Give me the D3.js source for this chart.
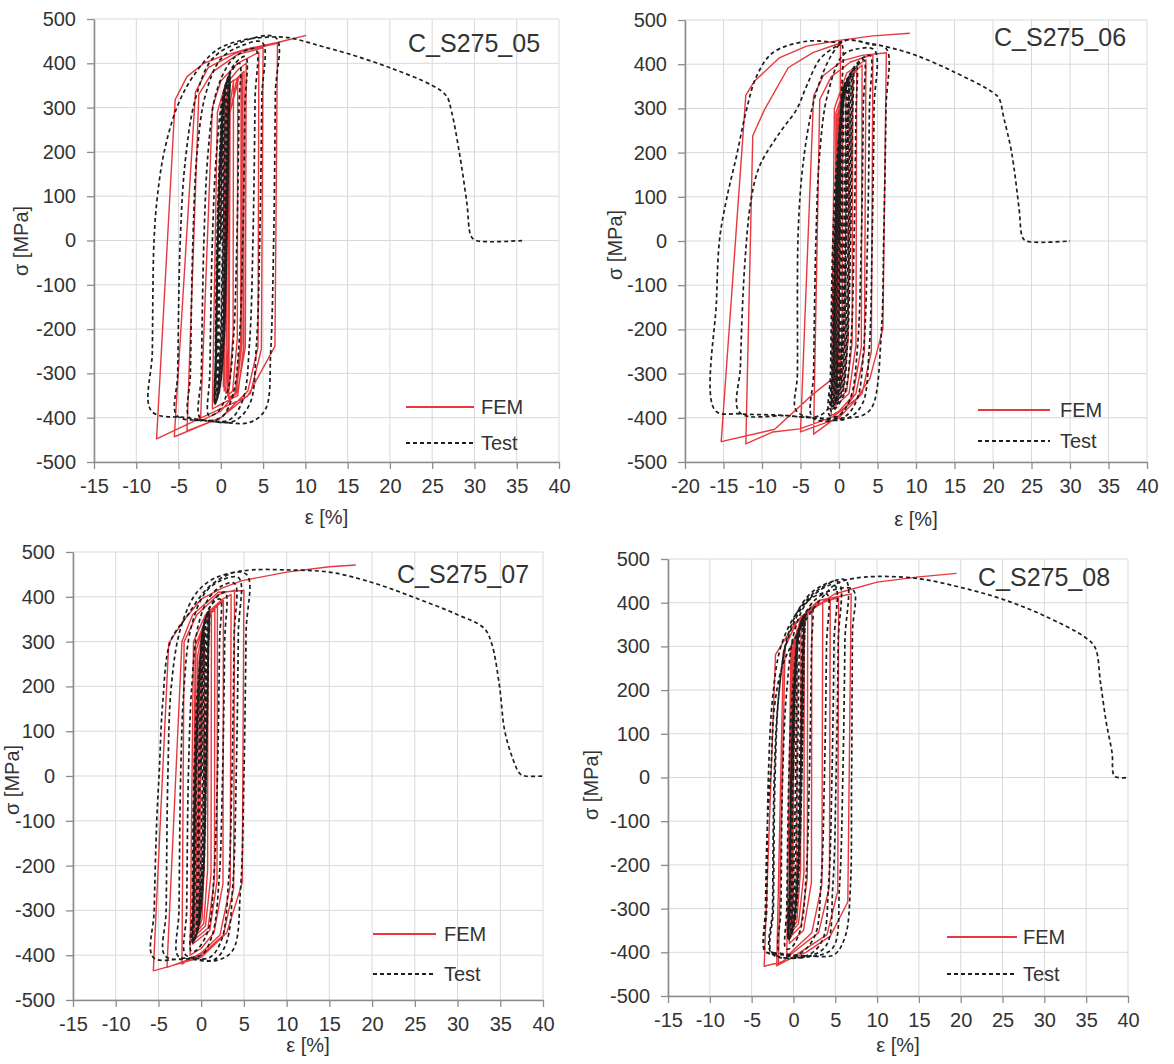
<!DOCTYPE html>
<html><head><meta charset="utf-8">
<script src="https://cdn.jsdelivr.net/npm/d3@7"></script>
<style>body{margin:0;background:#fff}svg{display:block}text{font-family:"Liberation Sans",Arial,sans-serif;fill:#333}</style>
</head><body><svg id="c" width="1174" height="1064"></svg>
<script>
// ---------- tick labels ----------
const xTicksA = [-15,-10,-5,0,5,10,15,20,25,30,35,40];
const xTicksB = [-20,-15,-10,-5,0,5,10,15,20,25,30,35,40];
const yTicks = [-500,-400,-300,-200,-100,0,100,200,300,400,500];
const seriesNames = ["FEM","Test"];
const titles = ["C_S275_05","C_S275_06","C_S275_07","C_S275_08"];

// ---------- C_S275_05 ----------
const fem05 = [[0,0],[0.2,330],[0.5,350],[0.45,-200],[0.3,-330],[0.4,250],[0.8,350],[1.0,355],
[0.95,-200],[0.6,-330],[0.4,-340],[0.55,260],[1.1,355],[1.5,362],[1.45,-210],[1.0,-335],[0.6,-345],
[0.8,270],[1.5,360],[2.0,368],[1.95,-220],[1.4,-340],[0.8,-350],[1.0,280],[1.9,365],[2.4,375],
[2.35,-230],[1.7,-345],[0.9,-355],[1.05,285],[2.0,368],[2.55,378],[2.5,-235],[1.8,-347],[0.95,-357],
[1.1,290],[2.2,372],[2.75,382],[2.7,-240],[2.0,-350],[0.5,-365],[-1.0,-380],
[-0.4,290],[0.5,350],[2,385],[3.0,400],[2.9,-240],[2,-340],[0,-385],[-2.4,-408],
[-1.0,300],[0,360],[2,400],[4.5,425],[4.4,-240],[3.2,-340],[0,-400],[-4.0,-430],
[-2.6,330],[-1,380],[2,420],[5.0,435],[4.8,-245],[3.5,-345],[0,-400],[-5.5,-443],
[-3.0,335],[-1.5,390],[2,425],[6.7,445],[6.4,-239],[3.15,-352],[-2.4,-401],[-7.6,-448],
[-5.4,318],[-4,370],[-2,400],[0,415],[3,432],[6.7,447],[10.1,463]];
const test05 = [[0,0],[0.15,150],[0.3,280],[0.4,330],[0.35,250],[0.2,0],[0.0,-200],[-0.2,-300],[-0.3,-330],
[-0.25,-250],[-0.1,0],[0.1,200],[0.35,320],[0.55,345],[0.5,250],[0.3,0],[0.05,-220],[-0.25,-320],[-0.45,-350],
[-0.4,-270],[-0.2,0],[0.05,200],[0.4,330],[0.75,360],[0.7,260],[0.45,0],[0.15,-230],[-0.3,-335],[-0.6,-362],
[-0.55,-280],[-0.35,0],[-0.05,200],[0.4,330],[1.0,370],[0.95,270],[0.7,0],[0.35,-230],[-0.2,-340],[-0.7,-368],
[-0.62,-280],[-0.42,0],[-0.1,200],[0.35,330],[0.85,366],[0.8,265],[0.55,0],[0.2,-230],[-0.3,-338],[-0.66,-366],
[-0.6,-280],[-0.38,0],[-0.05,200],[0.45,335],[0.98,372],[0.92,268],[0.66,0],[0.3,-232],[-0.25,-342],[-0.72,-370],
[-0.66,-282],[-0.46,0],[-0.12,200],[0.3,332],[0.8,362],[0.76,262],[0.52,0],[0.18,-228],[-0.32,-336],[-0.6,-364],
[-0.55,-278],[-0.33,0],[0,200],[0.5,338],[1.02,374],[0.97,270],[0.72,0],[0.36,-234],[-0.22,-344],[-0.7,-368],
[-0.6,-250],[-0.35,0],[0,200],[0.5,330],[1.2,380],[2.2,400],[2.15,300],[1.9,0],[1.5,-220],[0.8,-340],[-0.3,-385],[-1.4,-395],
[-1.3,-300],[-1.0,0],[-0.5,200],[0.3,330],[1.5,395],[2.9,415],[2.85,300],[2.6,0],[2.2,-220],[1.4,-350],[0,-400],[-2.4,-402],
[-2.3,-300],[-2.0,0],[-1.5,200],[-0.6,330],[1,400],[2.5,425],[4.1,432],[4.05,320],[3.8,0],[3.4,-230],[2.6,-360],[1,-405],[-1.5,-406],[-3.7,-400],
[-3.6,-300],[-3.3,0],[-2.8,200],[-1.8,330],[0,410],[2.5,440],[4.9,447],[4.85,320],[4.6,0],[4.2,-240],[3.4,-370],[1.5,-408],[-2,-406],[-5.2,-395],
[-5.1,-300],[-4.8,0],[-4.2,180],[-3,320],[-1,410],[2,445],[6.5,458],[6.45,330],[6.25,0],[5.9,-250],[5.3,-380],[3.5,-410],[0,-410],[-4,-400],[-8.2,-385],
[-8.1,-250],[-7.9,0],[-7.5,100],[-6.7,200],[-5.2,300],[-3.3,370],[-0.5,430],[2.5,452],[5.5,459],[8,458],
[10,449],[12,438],[15,422],[20,390],[25,350],[26.7,326],[27.3,290],[28.2,200],[29.1,85],[29.6,10],[30.2,0],[35.7,0]];

// ---------- C_S275_06 ----------
const fem06 = [[0,0],[0.2,320],[0.5,345],[0.4,-200],[0.1,-320],[-0.2,-335],[0,250],[0.5,345],[0.9,355],
[0.8,-210],[0.3,-330],[-0.3,-345],[-0.1,260],[0.6,350],[1.3,365],[1.2,-220],[0.6,-335],[-0.4,-355],
[-0.2,270],[0.8,355],[1.8,375],[1.7,-230],[1.0,-340],[-0.5,-365],[-0.3,280],[1.0,362],[2.3,385],
[2.2,-235],[1.3,-345],[-0.6,-375],[-0.4,290],[1.2,370],[3.0,398],[2.9,-240],[1.8,-350],[0,-385],[-1.0,-395],
[-0.6,300],[1,380],[3.5,410],[3.3,-250],[2.2,-345],[0,-395],[-3.3,-437],
[-2.5,320],[-1,372],[1.5,405],[4.4,422],[4.2,-250],[3,-345],[0,-400],[-5.0,-432],
[-3.3,328],[-2,375],[0.5,408],[3,420],[6.15,426],
[5.7,-199],[4.0,-312],[2.25,-357],[-0.8,-398],[-5.1,-425],[-8.6,-432],[-12.1,-459],
[-11.2,238],[-9.65,298],[-6.6,392],[-3.4,426],[0.2,448],
[0,-300],[-3.4,-347],[-8.35,-426],[-15.3,-454],
[-12.1,330],[-10.95,362],[-7.7,415],[-4.2,441],[0,454],[4.4,464],[9.2,470]];
const test06 = [[0,0],[0.15,150],[0.3,280],[0.4,330],[0.35,250],[0.2,0],[0,-200],[-0.2,-300],[-0.3,-330],
[-0.25,-250],[-0.1,0],[0.1,200],[0.35,320],[0.6,350],[0.55,250],[0.35,0],[0.1,-220],[-0.2,-320],[-0.45,-350],
[-0.4,-270],[-0.2,0],[0.05,200],[0.45,330],[0.9,362],[0.85,260],[0.6,0],[0.3,-230],[-0.2,-335],[-0.6,-362],
[-0.55,-280],[-0.35,0],[0,200],[0.6,335],[1.3,372],[1.25,270],[1.0,0],[0.6,-230],[0,-340],[-0.8,-372],
[-0.72,-280],[-0.5,0],[-0.1,200],[0.5,335],[1.1,368],[1.05,268],[0.8,0],[0.4,-232],[-0.15,-340],[-0.7,-368],
[-0.62,-280],[-0.4,0],[0,200],[0.7,340],[1.5,378],[1.45,275],[1.2,0],[0.8,-232],[0.1,-342],[-0.85,-375],
[-0.75,-282],[-0.52,0],[-0.1,200],[0.55,336],[1.2,370],[1.15,270],[0.9,0],[0.5,-230],[-0.1,-340],[-0.78,-372],
[-0.7,-280],[-0.45,0],[0,200],[0.75,342],[1.65,382],[1.6,278],[1.35,0],[0.95,-232],[0.25,-345],[-0.8,-372],
[-0.7,-280],[-0.45,0],[0,200],[0.8,340],[1.8,385],[1.75,280],[1.5,0],[1.1,-230],[0.4,-345],[-0.9,-380],
[-0.8,-280],[-0.5,0],[0,200],[1,350],[2.25,395],[2.2,290],[1.95,0],[1.5,-240],[0.6,-350],[-1.0,-385],
[-0.9,-290],[-0.6,0],[0,200],[1.2,360],[3.2,410],[3.15,300],[2.9,0],[2.4,-240],[1.5,-355],[0,-395],[-1.2,-395],
[-1.1,-300],[-0.8,0],[-0.2,200],[1,360],[2.5,405],[4.0,420],[3.95,300],[3.7,0],[3.2,-245],[2.3,-360],[0.5,-400],[-3.4,-400],
[-3.3,-300],[-3.0,0],[-2.5,200],[-1.5,330],[0.5,420],[2.5,435],[4.6,432],[4.55,300],[4.3,0],[3.9,-250],[3.0,-370],[1,-402],[-2,-403],[-5.5,-385],
[-5.4,-300],[-5.3,20],[-4.7,170],[-3.5,300],[-2.5,360],[-1,420],[0.3,445],
[0.25,300],[0.1,0],[-0.2,-250],[-0.8,-360],[-2.5,-395],[-7,-395],[-12.9,-388],
[-12.8,-282],[-12.25,-56],[-11.4,95],[-10.3,170],[-7.7,245],[-5.5,298],[-4.2,351],[-2.5,411],[-0.35,441],[1.2,455],[4,445],[6.15,435],
[6.1,300],[5.8,0],[5.5,-206],[4.4,-372],[3.1,-394],[0,-401],[-3.4,-400],[-7.7,-394],[-12.9,-391],[-16.1,-383],
[-15.9,-131],[-15.5,5],[-14.6,95],[-13.3,193],[-12.0,298],[-10.7,373],[-8.6,426],[-4.2,452],[0,450],[1.2,455],[4,447],[6.5,438],
[10,420],[15,382],[20,336],[20.8,322],[21.4,279],[22.4,202],[23.4,71],[23.8,10],[24.3,0],[30,0]];

// ---------- C_S275_07 ----------
const fem07 = [[0,0],[0.15,310],[0.4,340],[0.35,-200],[0.1,-320],[-0.2,-335],[0,250],[0.4,340],[0.8,350],
[0.75,-210],[0.3,-330],[-0.4,-345],[-0.2,260],[0.4,345],[1.2,360],[1.15,-220],[0.5,-335],[-0.6,-355],
[-0.4,270],[0.5,350],[1.6,372],[1.55,-230],[0.8,-340],[-0.8,-365],[-0.6,280],[0.6,355],[1.9,380],
[1.85,-235],[1.0,-345],[-1.0,-375],[-0.7,290],[0.8,362],[2.6,392],[2.55,-240],[1.5,-350],[0,-385],[-1.3,-400],
[-0.9,300],[0.5,360],[2.5,395],[3.5,405],[3.4,-245],[2.2,-355],[0,-395],[-2.25,-420],
[-2.0,300],[-0.5,360],[2,405],[3.9,415],[3.8,-250],[2.6,-355],[0,-400],[-4.0,-427],
[-2.25,300],[-1,360],[2,410],[5.0,414],[4.8,-238],[3.0,-350],[0,-405],[-5.6,-435],
[-3.8,296],[-2.25,342],[0,395],[2.5,420],[4.8,436],[10,455],[15,467],[18.1,471]];
const test07 = [[0,0],[0.1,150],[0.25,280],[0.35,320],[0.3,240],[0.15,0],[-0.05,-200],[-0.25,-300],[-0.35,-330],
[-0.3,-250],[-0.15,0],[0.05,200],[0.3,320],[0.5,345],[0.45,250],[0.3,0],[0.05,-220],[-0.3,-320],[-0.55,-350],
[-0.5,-270],[-0.3,0],[-0.05,200],[0.3,330],[0.7,358],[0.65,260],[0.45,0],[0.15,-230],[-0.35,-335],[-0.8,-362],
[-0.75,-280],[-0.55,0],[-0.2,200],[0.3,335],[0.9,368],[0.85,270],[0.6,0],[0.25,-230],[-0.35,-340],[-1.0,-372],
[-0.92,-282],[-0.7,0],[-0.3,200],[0.25,333],[0.75,362],[0.7,262],[0.48,0],[0.15,-230],[-0.4,-338],[-0.9,-368],
[-0.85,-280],[-0.62,0],[-0.25,200],[0.3,336],[0.85,366],[0.8,266],[0.55,0],[0.2,-232],[-0.35,-340],[-0.95,-370],
[-0.88,-282],[-0.66,0],[-0.28,200],[0.2,330],[0.65,358],[0.6,258],[0.4,0],[0.08,-228],[-0.45,-336],[-0.98,-372],
[-0.9,-282],[-0.68,0],[-0.3,200],[0.32,338],[0.88,368],[0.83,268],[0.58,0],[0.22,-232],[-0.35,-342],[-1.0,-372],
[-0.9,-250],[-0.65,0],[-0.3,200],[0.4,340],[1.1,380],[2.2,395],[2.15,300],[1.9,0],[1.5,-220],[0.8,-345],[-0.5,-388],[-1.15,-392],
[-1.05,-300],[-0.85,0],[-0.4,200],[0.5,345],[1.6,395],[2.8,410],[2.75,300],[2.5,0],[2.1,-230],[1.3,-355],[0,-400],[-1.8,-400],
[-1.7,-300],[-1.5,0],[-1.1,200],[-0.3,340],[1,400],[2.5,425],[3.9,430],[3.85,310],[3.6,0],[3.2,-235],[2.4,-365],[1,-405],[-1,-406],[-2.7,-402],
[-2.6,-300],[-2.4,0],[-2.0,200],[-1.2,330],[0.5,410],[2.5,438],[4.4,442],[4.35,320],[4.1,0],[3.7,-245],[2.9,-375],[1.5,-410],[-1,-408],[-4.2,-402],
[-4.1,-300],[-3.9,0],[-3.5,200],[-2.4,330],[-0.5,410],[2,445],[5.3,450],[5.25,320],[5.0,0],[4.6,-253],[3.7,-389],[1.7,-412],[-1.8,-408],[-5.6,-405],
[-5.5,-300],[-5.2,-100],[-4.9,12],[-4.5,164],[-3.6,300],[-1.8,353],[0.84,421],[3.5,452],[6,460],[10,460],
[15,455],[20,432],[25,398],[30,360],[33.1,330],[34,295],[34.9,202],[35.5,103],[36.4,42],[37.3,5],[37.9,0],[40,0]];

// ---------- C_S275_08 ----------
const fem08 = [[0,0],[0.15,310],[0.45,340],[0.4,-200],[0.15,-320],[-0.1,-335],[0.05,250],[0.5,340],[0.9,350],
[0.85,-210],[0.4,-330],[-0.2,-345],[-0.05,260],[0.6,345],[1.3,360],[1.25,-220],[0.6,-335],[-0.3,-355],
[-0.15,270],[0.7,350],[1.7,372],[1.65,-230],[0.9,-340],[-0.4,-365],[-0.2,280],[0.8,360],[2.2,382],
[2.15,-240],[1.2,-350],[-0.5,-380],[-0.2,290],[1,370],[3.5,400],[3.4,-245],[2.2,-355],[0,-395],[-0.8,-410],
[-0.3,300],[1.5,380],[4.4,410],[4.3,-250],[3,-355],[0,-400],[-1.8,-429],
[-1.0,300],[0.5,360],[2.5,395],[5.4,412],[5.3,-260],[4,-360],[0,-410],[-2.0,-431],
[-1.2,290],[0.5,360],[3,405],[6.9,420],[6.5,-285],[4.4,-363],[1.5,-400],[-1,-420],[-3.5,-432],
[-2.15,281],[0.2,354],[2.2,385],[4.9,420],[10,447],[15,459],[19.5,467]];
const test08 = [[0,0],[0.15,150],[0.3,280],[0.45,330],[0.4,250],[0.25,0],[0.05,-200],[-0.15,-300],[-0.25,-330],
[-0.2,-250],[-0.05,0],[0.15,200],[0.45,320],[0.7,345],[0.65,250],[0.45,0],[0.2,-220],[-0.15,-320],[-0.35,-350],
[-0.3,-270],[-0.1,0],[0.15,200],[0.55,330],[1.0,360],[0.95,260],[0.7,0],[0.4,-230],[-0.1,-335],[-0.5,-362],
[-0.45,-280],[-0.25,0],[0.1,200],[0.7,335],[1.3,372],[1.25,270],[1.0,0],[0.6,-230],[0,-345],[-0.6,-372],
[-0.52,-280],[-0.3,0],[0.05,200],[0.6,333],[1.15,366],[1.1,266],[0.85,0],[0.5,-230],[-0.05,-340],[-0.55,-368],
[-0.48,-280],[-0.26,0],[0.1,200],[0.7,336],[1.25,370],[1.2,268],[0.95,0],[0.55,-232],[0,-342],[-0.6,-370],
[-0.5,-280],[-0.28,0],[0.08,200],[0.62,334],[1.1,364],[1.05,264],[0.8,0],[0.45,-230],[-0.05,-338],[-0.58,-368],
[-0.5,-280],[-0.27,0],[0.1,200],[0.72,338],[1.3,372],[1.25,270],[1.0,0],[0.6,-232],[0.02,-344],[-0.6,-372],
[-0.5,-250],[-0.25,0],[0.15,200],[0.9,345],[2.2,390],[2.15,290],[1.9,0],[1.5,-230],[0.8,-350],[-0.3,-390],[-0.9,-392],
[-0.8,-300],[-0.55,0],[-0.1,200],[0.9,350],[2.5,405],[4.0,420],[3.95,300],[3.7,0],[3.3,-240],[2.5,-365],[0.5,-405],[-1.6,-402],
[-1.5,-300],[-1.3,0],[-0.8,200],[0.2,340],[2,410],[4.9,440],[4.85,310],[4.6,0],[4.2,-245],[3.4,-375],[1.5,-408],[-2.5,-402],
[-2.4,-300],[-2.2,0],[-1.7,200],[-0.6,330],[1.5,410],[3.5,440],[5.4,447],[5.35,310],[5.1,0],[4.7,-250],[3.9,-385],[1.5,-410],[-1,-406],[-3.3,-398],
[-3.2,-300],[-3.0,0],[-2.5,180],[-1.5,300],[0.5,380],[3,430],[6.2,452],[6.15,310],[5.9,0],[5.5,-250],[4.7,-390],[2,-410],[-2.6,-403],
[-2.5,-300],[-2.3,0],[-1.8,180],[-0.8,310],[1.5,400],[4,425],[7.1,430],[7.05,330],[6.95,0],[6.8,-254],[6.2,-363],[4.9,-405],[2.2,-409],[-2.3,-401],[-3.4,-398],
[-3.35,-300],[-3.1,-100],[-2.7,17],[-2.3,157],[-1.4,250],[0,312],[2.2,381],[4,424],[5.1,443],[7,455],[10,460],
[15,455],[20,435],[25,408],[30,370],[35,319],[36.1,296],[36.7,219],[37.4,126],[38.1,56],[38.4,3],[40,0]];

// ---------- layout (positions only) ----------
const layout = [
  {fem:fem05, test:test05, xt:xTicksA, L:94, R:559, T:19, B:462, tx:408, ty:52, lg:[406,474,407,443,481], yl:[21,241], xlY:524},
  {fem:fem06, test:test06, xt:xTicksB, L:685, R:1147, T:20, B:462, tx:994, ty:46, lg:[978,1050,410,441,1060], yl:[615,245], xlY:526},
  {fem:fem07, test:test07, xt:xTicksA, L:73, R:543, T:552, B:1000, tx:397, ty:583, lg:[373,436,934,974,444], yl:[12,780], xlY:1052},
  {fem:fem08, test:test08, xt:xTicksA, L:668, R:1128, T:559, B:996, tx:978, ty:586, lg:[947,1017,937,974,1023], yl:[591,785], xlY:1052}
];

const RED = "#e8383d", DARK = "#1e1e1e", GRID = "#d9d9d9", AXIS = "#8c8c8c";
const svg = d3.select("#c");

layout.forEach((p, i) => {
  const x = d3.scaleLinear().domain([p.xt[0], p.xt[p.xt.length-1]]).range([p.L, p.R]);
  const y = d3.scaleLinear().domain([-500, 500]).range([p.B, p.T]);
  const g = svg.append("g");

  g.append("g").selectAll("line").data(p.xt).join("line")
    .attr("x1", d => x(d)).attr("x2", d => x(d)).attr("y1", p.T).attr("y2", p.B)
    .attr("stroke", GRID).attr("stroke-width", 1);
  g.append("g").selectAll("line").data(yTicks).join("line")
    .attr("x1", p.L).attr("x2", p.R).attr("y1", d => y(d)).attr("y2", d => y(d))
    .attr("stroke", GRID).attr("stroke-width", 1);

  const xa = g.append("g").attr("transform", `translate(0,${p.B})`)
    .call(d3.axisBottom(x).tickValues(p.xt).tickSize(7).tickPadding(10).tickSizeOuter(0).tickFormat(d3.format("d")));
  const ya = g.append("g").attr("transform", `translate(${p.L},0)`)
    .call(d3.axisLeft(y).tickValues(yTicks).tickSize(7).tickPadding(11).tickSizeOuter(0).tickFormat(d3.format("d")));
  [xa, ya].forEach(a => {
    a.select(".domain").attr("stroke", AXIS).attr("stroke-width", 1.6);
    a.selectAll(".tick line").attr("stroke", AXIS).attr("stroke-width", 1.3);
    a.selectAll(".tick text").attr("font-size", 20).attr("fill", "#333")
      .attr("font-family", '"Liberation Sans", Arial, sans-serif');
  });
  xa.selectAll(".tick text").text(d => d < 0 ? "-" + Math.abs(d) : d);
  ya.selectAll(".tick text").text(d => d < 0 ? "-" + Math.abs(d) : d);

  const line = d3.line().x(d => x(d[0])).y(d => y(d[1])).curve(d3.curveLinear);
  g.append("path").attr("d", line(p.fem))
    .attr("fill", "none").attr("stroke", RED).attr("stroke-width", 1.4).attr("stroke-linejoin", "round");
  const tline = d3.line().x(d => x(d[0])).y(d => y(d[1])).curve(d3.curveCatmullRom.alpha(0.5));
  g.append("path").attr("d", tline(p.test))
    .attr("fill", "none").attr("stroke", DARK).attr("stroke-width", 1.7).attr("stroke-dasharray", "4,3");

  g.append("text").attr("x", p.tx).attr("y", p.ty).attr("font-size", 25).attr("fill", "#1a1a1a").text(titles[i]);

  const [lx1, lx2, ly1, ly2, ltx] = p.lg;
  g.append("line").attr("x1", lx1).attr("x2", lx2).attr("y1", ly1).attr("y2", ly1).attr("stroke", RED).attr("stroke-width", 1.8);
  g.append("line").attr("x1", lx1).attr("x2", lx2).attr("y1", ly2).attr("y2", ly2).attr("stroke", DARK).attr("stroke-width", 1.8).attr("stroke-dasharray", "4,3");
  g.append("text").attr("x", ltx).attr("y", ly1).attr("dy", "0.35em").attr("font-size", 20).text(seriesNames[0]);
  g.append("text").attr("x", ltx).attr("y", ly2).attr("dy", "0.35em").attr("font-size", 20).text(seriesNames[1]);

  g.append("text").attr("x", (p.L + p.R) / 2).attr("y", p.xlY).attr("text-anchor", "middle").attr("font-size", 20).text("ε [%]");
  g.append("text").attr("transform", `translate(${p.yl[0]},${p.yl[1]}) rotate(-90)`)
    .attr("text-anchor", "middle").attr("dy", "0.35em").attr("font-size", 20).text("σ [MPa]");
});
</script></body></html>
